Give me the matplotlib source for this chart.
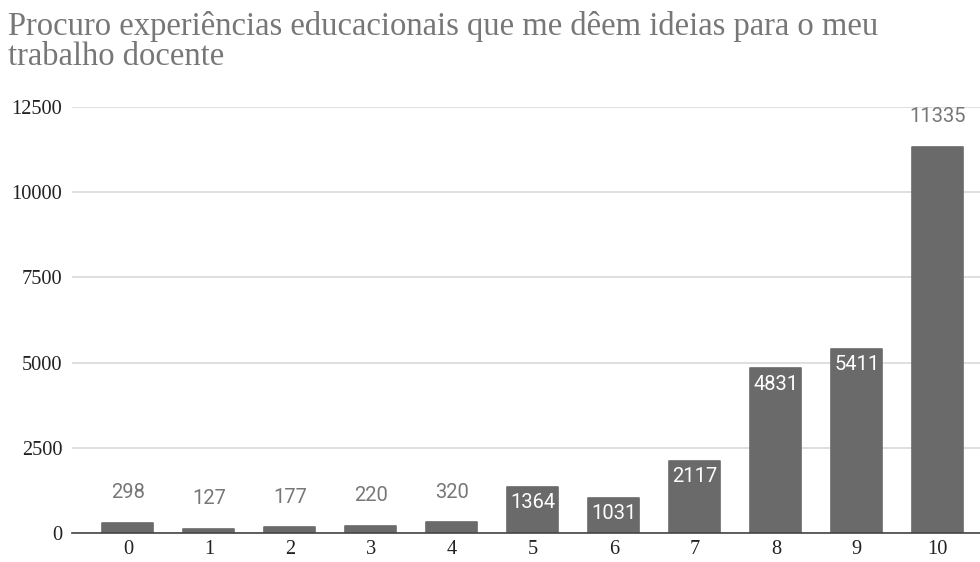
import matplotlib
matplotlib.use("Agg")
import matplotlib.pyplot as plt

categories = ["0", "1", "2", "3", "4", "5", "6", "7", "8", "9", "10"]
values = [298, 127, 177, 220, 320, 1364, 1031, 2117, 4831, 5411, 11335]
yticks = [0, 2500, 5000, 7500, 10000, 12500]
title_lines = ["Procuro experiências educacionais que me dêem ideias para o meu",
               "trabalho docente"]

BAR = "#6a6a6a"
GRAY_TXT = "#777777"

fig = plt.figure(figsize=(9.8, 5.62), dpi=100)
ax = fig.add_axes([0.0735, 0.0516, 0.9265, 0.758])

x = list(range(len(categories)))
bars = ax.bar(x, values, width=0.63, color=BAR, edgecolor=BAR,
              linewidth=1.2, zorder=3)
for b in bars:
    b.set_joinstyle("round")

ax.set_xlim(-0.69, 10.52)
ax.set_ylim(0, 12500)
ax.set_yticks(yticks)
ax.set_yticklabels([str(t) for t in yticks], family="Liberation Serif",
                   fontsize=14.7, color="#222222")
ax.set_xticks(x)
ax.set_xticklabels(categories, family="Liberation Serif", fontsize=14.7,
                   color="#222222")
ax.tick_params(axis="both", length=0)
ax.tick_params(axis="y", pad=7)
ax.tick_params(axis="x", pad=5)

ax.grid(axis="y", color="#d6d6d6", linewidth=1.1, zorder=0)
ax.set_axisbelow(True)
for s in ["top", "right", "left"]:
    ax.spines[s].set_visible(False)
ax.spines["bottom"].set_color("#444444")
ax.spines["bottom"].set_linewidth(1.2)
ax.spines["bottom"].set_zorder(4)

# value labels: inside bars for mid-sized bars, above for small and the tallest
for xi, v in zip(x, values):
    if 1000 <= v < 10000:
        ax.annotate(str(v), (xi, v), xytext=(0, -11.5), textcoords="offset points",
                    ha="center", va="center", family="Roboto", fontsize=14.5,
                    color="white", zorder=5)
    else:
        ax.annotate(str(v), (xi, v), xytext=(0, 21.5), textcoords="offset points",
                    ha="center", va="center", family="Roboto", fontsize=14.5,
                    color=GRAY_TXT, zorder=5)

# two-line title, baselines placed explicitly
for line, base_px in zip(title_lines, [35, 65]):
    fig.text(8 / 980, 1 - base_px / 562, line, ha="left", va="baseline",
             family="Liberation Serif", fontsize=23.5, color=GRAY_TXT)

fig.savefig("out.png", dpi=100)
